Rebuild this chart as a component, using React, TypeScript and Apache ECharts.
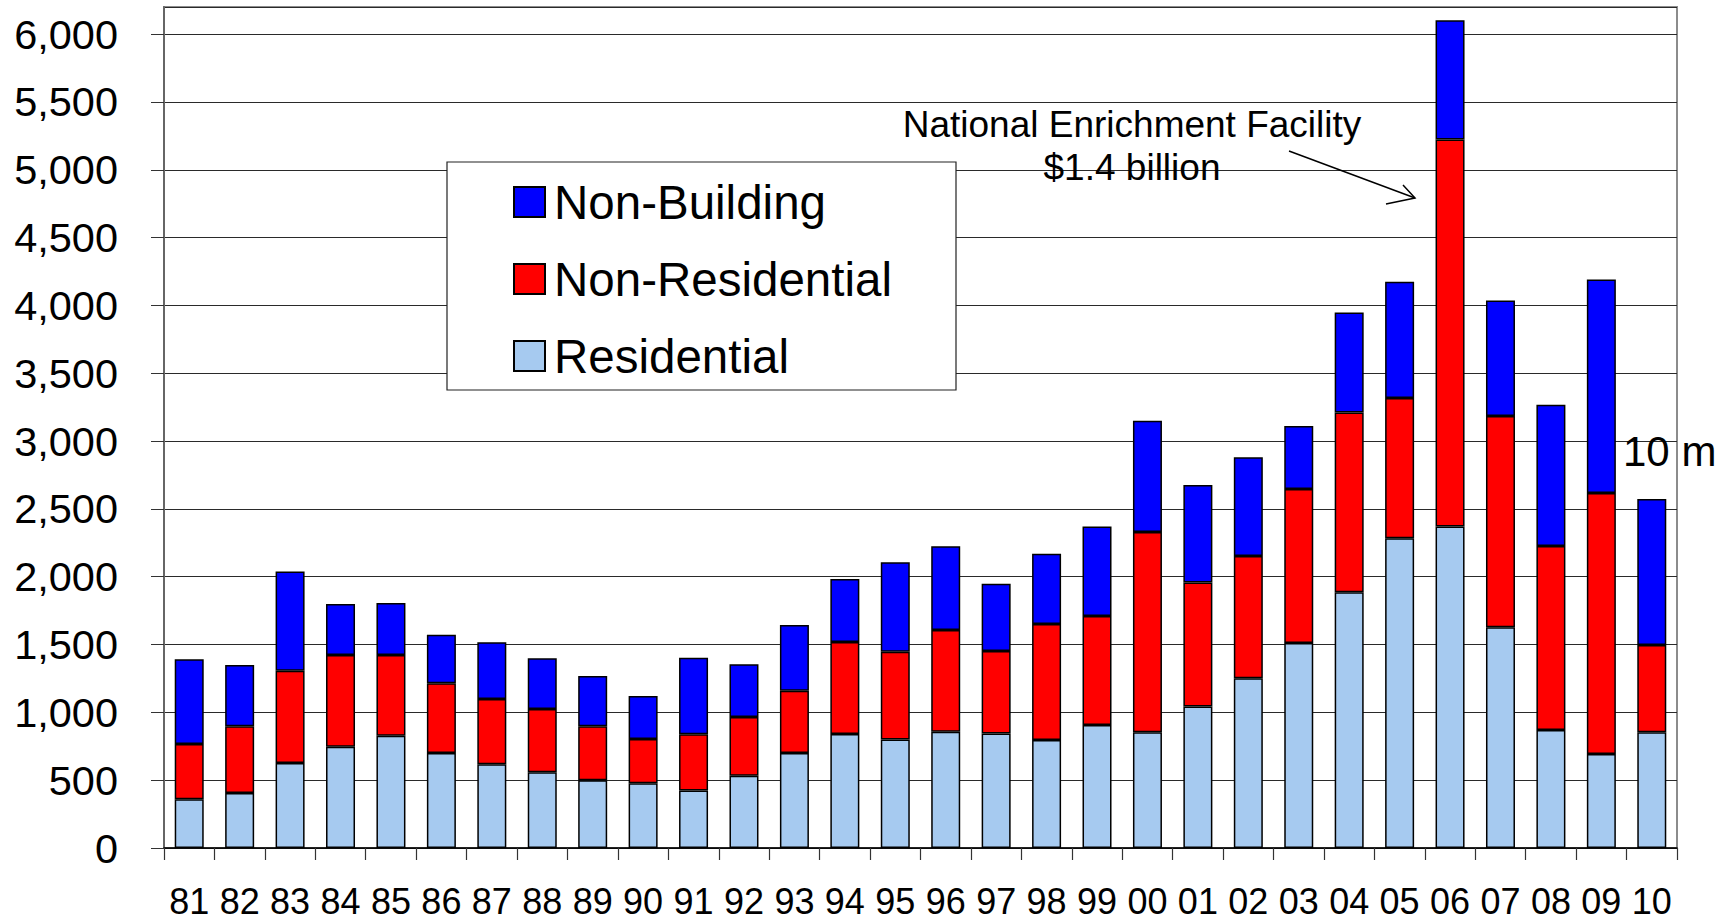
import React, { useEffect, useRef } from "react";
import * as echarts from "echarts";

const years = ["81","82","83","84","85","86","87","88","89","90","91","92","93","94","95","96","97","98","99","00","01","02","03","04","05","06","07","08","09","10"];
const residential = [360,405,627,747,828,700,617,558,500,477,423,533,700,840,799,857,845,796,907,853,1044,1251,1511,1885,2283,2371,1627,870,693,853];
const nonResidential = [407,492,680,676,595,514,481,467,397,326,415,433,460,678,648,750,607,855,803,1476,914,901,1135,1326,1034,2853,1557,1356,1924,643];
const nonBuilding = [624,452,732,376,383,358,418,373,371,317,565,388,484,465,659,617,496,519,661,821,718,728,465,737,857,879,853,1042,1575,1076];
const legendOrder = ["Non-Building", "Non-Residential", "Residential"];
const annotationLines = ["National Enrichment Facility", "$1.4 billion"];
const sideNote = "10 m";

const FONT = "'Liberation Sans', Arial, sans-serif";
const W = 1734;
const H = 921;
const GRID = { left: 164, right: 57, top: 7, bottom: 73 };

export default function App() {
  const ref = useRef<HTMLDivElement>(null);
  useEffect(() => {
    if (!ref.current) return;
    const chart = echarts.init(ref.current, null, { renderer: "svg" });
    const bar = (name: string, data: number[], color: string) => ({
      name,
      type: "bar",
      stack: "total",
      data,
      barWidth: 29,
      itemStyle: { color, borderColor: "#000", borderWidth: 1.5 },
      emphasis: { disabled: true },
    });
    chart.setOption({
      animation: false,
      backgroundColor: "#fff",
      textStyle: { fontFamily: FONT },
      grid: {
        ...GRID,
        show: true,
        borderColor: "#8c8c8c",
        borderWidth: 2,
        backgroundColor: "transparent",
      },
      legend: {
        orient: "vertical",
        left: 508,
        top: 173,
        itemWidth: 31,
        itemHeight: 30,
        itemGap: 29,
        icon: "rect",
        data: legendOrder,
        selectedMode: false,
        textStyle: { fontSize: 47.5, color: "#000", fontFamily: FONT, padding: [0, 0, 0, 4] },
        z: 10,
      },
      xAxis: {
        type: "category",
        data: years,
        axisLine: { show: true, lineStyle: { color: "#000", width: 1.5 } },
        axisTick: { show: true, length: 12, lineStyle: { color: "#333", width: 1.2 } },
        axisLabel: { fontSize: 36, color: "#000", margin: 35, interval: 0, fontFamily: FONT },
        splitLine: { show: false },
      },
      yAxis: {
        type: "value",
        min: 0,
        max: 6200,
        interval: 500,
        axisLine: { show: true, lineStyle: { color: "#666", width: 2 } },
        axisTick: { show: true, length: 13, lineStyle: { color: "#333", width: 1 } },
        axisLabel: {
          fontSize: 41.5,
          color: "#000",
          margin: 46,
          showMaxLabel: false,
          fontFamily: FONT,
          formatter: (v: number) => (v > 6000 ? "" : v.toLocaleString("en-US")),
        },
        splitLine: { show: true, lineStyle: { color: "#2a2a2a", width: 1 } },
      },
      graphic: [
        {
          type: "rect",
          z: 5,
          shape: { x: 447, y: 162, width: 509, height: 228 },
          style: { fill: "#fff", stroke: "#222", lineWidth: 1.2 },
        },
        {
          type: "text",
          z: 6,
          x: 1132,
          y: 124,
          style: {
            text: annotationLines[0],
            fontSize: 37,
            fontFamily: FONT,
            fill: "#000",
            align: "center",
            verticalAlign: "middle",
          },
        },
        {
          type: "text",
          z: 6,
          x: 1132,
          y: 167,
          style: {
            text: annotationLines[1],
            fontSize: 37,
            fontFamily: FONT,
            fill: "#000",
            align: "center",
            verticalAlign: "middle",
          },
        },
        {
          type: "line",
          z: 6,
          shape: { x1: 1289, y1: 151, x2: 1415, y2: 198 },
          style: { stroke: "#000", lineWidth: 1.5 },
        },
        {
          type: "polyline",
          z: 6,
          shape: { points: [[1403, 185], [1415, 198], [1386, 204]] },
          style: { stroke: "#000", lineWidth: 1.5, fill: null },
        },
        {
          type: "text",
          z: 6,
          x: 1623,
          y: 451,
          style: {
            text: sideNote,
            fontSize: 42,
            fontFamily: FONT,
            fill: "#000",
            align: "left",
            verticalAlign: "middle",
          },
        },
      ],
      series: [
        bar("Residential", residential, "#A6CAF0"),
        bar("Non-Residential", nonResidential, "#FF0000"),
        bar("Non-Building", nonBuilding, "#0000FF"),
      ],
    });
    return () => chart.dispose();
  }, []);
  return (
    <div
      ref={ref}
      style={{ position: "fixed", left: 0, top: 0, width: W, height: H, background: "#fff" }}
    />
  );
}
